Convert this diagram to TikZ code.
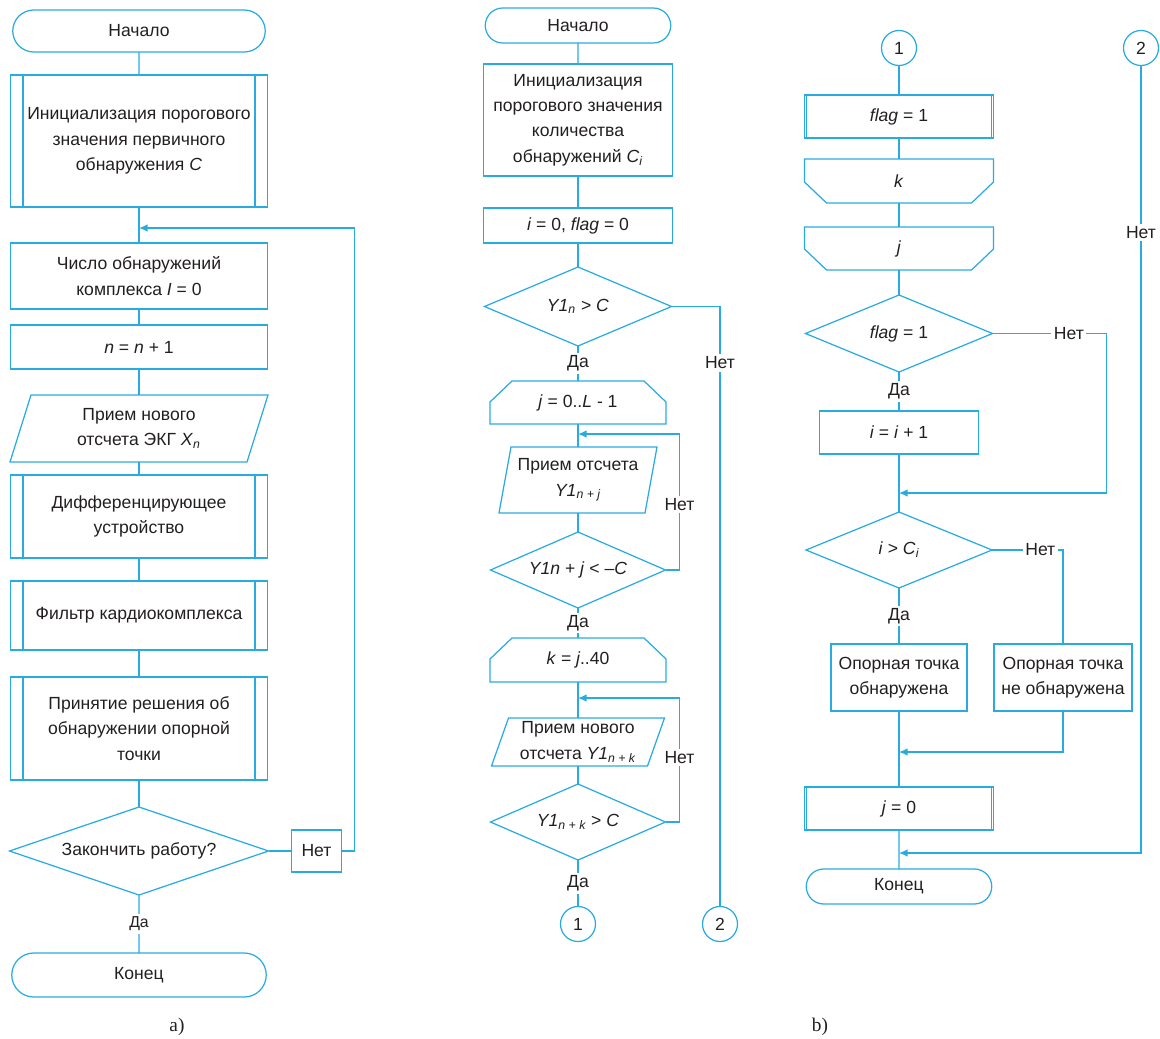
\documentclass[tikz,border=0pt]{standalone}
\usepackage{fontspec}
\setmainfont{Liberation Sans}
\newfontfamily\capfont{Liberation Serif}
\usepackage{tikz}
\usetikzlibrary{arrows.meta,positioning,shapes.geometric,shapes.misc}
\definecolor{lineblue}{HTML}{29ABE2}
\definecolor{ink}{HTML}{231F20}
\newcommand\vi[1]{\textit{#1}}
\newcommand\idx[1]{\textsubscript{\itshape #1}}
% outlines drawn round plain nodes: loop open/close, data input
\newcommand\loopopen[1]{\draw[wire] ([xshift=4.4mm]#1.north west) -- ([xshift=-4.4mm]#1.north east) -- ([yshift=-4.2mm]#1.north east) -- (#1.south east) -- (#1.south west) -- ([yshift=-4.2mm]#1.north west) -- cycle;}
\newcommand\loopclose[1]{\draw[wire] (#1.north west) -- (#1.north east) -- ([yshift=4.2mm]#1.south east) -- ([xshift=-4.4mm]#1.south east) -- ([xshift=4.4mm]#1.south west) -- ([yshift=4.2mm]#1.south west) -- cycle;}
\newcommand\slanted[2]{\draw[wire] ([xshift=#2]#1.north west) -- (#1.north east) -- ([xshift=-#2]#1.south east) -- (#1.south west) -- cycle;}

\begin{document}
\begin{tikzpicture}[
  font=\fontsize{10}{14.5}\selectfont, text=ink,
  every node/.style={outer sep=0pt},
  wire/.style={draw=lineblue,line width=.7pt},
  back/.style={wire,-{Latex[length=1.7mm,width=1.5mm]}},
  term/.style={rounded rectangle,wire,inner sep=1pt},
  box/.style={rectangle,wire,inner sep=1pt,align=center},
  proc/.style={box,path picture={\draw[lineblue,line width=.7pt] ([xshift=#1]path picture bounding box.north west) -- ([xshift=#1]path picture bounding box.south west) ([xshift=-#1]path picture bounding box.north east) -- ([xshift=-#1]path picture bounding box.south east);}},
  proc/.default=2.5mm,
  plain/.style={rectangle,inner sep=1pt,align=center},
  cond/.style={diamond,aspect=3,wire,inner sep=0pt},
  conn/.style={circle,wire,minimum size=7mm,inner sep=0pt},
  lbl/.style={fill=white,inner sep=1.5pt},
]
\useasboundingbox (0,0) rectangle (232mm,-207.8mm);

% a) main loop
\node[term,minimum width=51.2mm,minimum height=8.4mm] (beginA) at (27.8mm,-6.2mm) {Начало};
\node[proc,minimum width=51.4mm,minimum height=26.4mm,below=4.6mm of beginA] (thrA) {Инициализация порогового\\значения первичного\\обнаружения \vi{C}};
\node[box,minimum width=51.4mm,minimum height=13.2mm,below=7.2mm of thrA] (countA) {Число обнаружений\\комплекса \vi{I} = 0};
\node[box,minimum width=51.4mm,minimum height=8.8mm,below=3.2mm of countA] (stepA) {\vi{n} = \vi{n} + 1};
\node[plain,minimum width=51.6mm,minimum height=13.4mm,below=5.2mm of stepA] (readA) {Прием нового\\отсчета ЭКГ \vi{X}\idx{n}};
\node[proc,minimum width=51.4mm,minimum height=16.6mm,below=2.6mm of readA] (diffA) {Дифференцирующее\\устройство};
\node[proc,minimum width=51.4mm,minimum height=13.8mm,below=4.6mm of diffA] (filtA) {Фильтр кардиокомплекса};
\node[proc,minimum width=51.4mm,minimum height=20.6mm,below=5.4mm of filtA] (decA) {Принятие решения об\\обнаружении опорной\\точки};
\node[cond,minimum width=51.8mm,minimum height=17.6mm,below=5.4mm of decA] (stopA) {Закончить работу?};
\node[term,minimum width=51.6mm,minimum height=8.8mm,below=11.6mm of stopA] (endA) {Конец};
\node[box,minimum width=10mm,minimum height=8.4mm,right=4.6mm of stopA] (noA) {Нет};
\slanted{readA}{4.2mm}

\draw[wire] (beginA) -- (thrA);
\draw[wire] (thrA) -- (countA);
\draw[wire] (countA) -- (stepA);
\draw[wire] (stepA) -- (readA);
\draw[wire] (readA) -- (diffA);
\draw[wire] (diffA) -- (filtA);
\draw[wire] (filtA) -- (decA);
\draw[wire] (decA) -- (stopA);
\draw[wire] (stopA) -- node[lbl,font=\small]{Да} (endA);
\draw[wire] (stopA) -- (noA);
\draw[back] (noA.east) -- ++(2.6mm,0) |- ([yshift=3mm]countA.north);

% b) search for the reference point
\node[term,minimum width=37.8mm,minimum height=7mm] (beginB) at (115.6mm,-5.1mm) {Начало};
\node[box,minimum width=37.8mm,minimum height=22.4mm,below=4.2mm of beginB] (thrB) {Инициализация\\порогового значения\\количества\\обнаружений \vi{C}\idx{i}};
\node[box,minimum width=37.8mm,minimum height=7mm,below=6.4mm of thrB] (setB) {\vi{i} = 0, \vi{flag} = 0};
\node[cond,minimum width=37.4mm,minimum height=15.8mm,below=4.8mm of setB] (peakB) {\vi{Y1}\idx{n} > \vi{C}};
\node[plain,minimum width=35.2mm,minimum height=8.6mm,below=7mm of peakB] (loopJ) {\vi{j} = 0..\vi{L} - 1};
\node[plain,minimum width=31.6mm,minimum height=13.2mm,below=4.6mm of loopJ] (readJ) {Прием отсчета\\\vi{Y1}\idx{n + j}};
\node[cond,minimum width=35mm,minimum height=15.2mm,below=3.8mm of readJ] (fallB) {\vi{Y1n} + \vi{j} < –\vi{C}};
\node[plain,minimum width=35.2mm,minimum height=8.8mm,below=6mm of fallB] (loopK) {\vi{k} = \vi{j}..40};
\node[plain,minimum width=34.6mm,minimum height=9.6mm,below=7.2mm of loopK] (readK) {Прием нового\\отсчета \vi{Y1}\idx{n + k}};
\node[cond,minimum width=35mm,minimum height=15.2mm,below=3.6mm of readK] (riseB) {\vi{Y1}\idx{n + k} > \vi{C}};
\node[conn,below=9.3mm of riseB] (oneB) {1};
\node[conn] (twoB) at (144mm,-184.8mm) {2};
\loopopen{loopJ}
\loopopen{loopK}
\slanted{readJ}{2.4mm}
\slanted{readK}{3.4mm}

\draw[wire] (beginB) -- (thrB);
\draw[wire] (thrB) -- (setB);
\draw[wire] (setB) -- (peakB);
\draw[wire] (peakB) -- node[lbl]{Да} (loopJ);
\draw[wire] (loopJ) -- (readJ);
\draw[wire] (readJ) -- (fallB);
\draw[wire] (fallB) -- node[lbl]{Да} (loopK);
\draw[wire] (loopK) -- (readK);
\draw[wire] (readK) -- (riseB);
\draw[wire] (riseB) -- node[lbl]{Да} (oneB);
\draw[wire] (peakB.east) -| node[lbl,pos=.547]{Нет} (twoB);
\draw[back] (fallB.east) -- ++(2.8mm,0) |- node[lbl,pos=.24]{Нет} ([yshift=2.6mm]readJ.north);
\draw[back] (riseB.east) -- ++(2.8mm,0) |- node[lbl,pos=.26]{Нет} ([yshift=4mm]readK.north);

% continuation from the connectors
\node[conn] (oneC) at (179.8mm,-9.6mm) {1};
\node[conn] (twoC) at (228.2mm,-9.6mm) {2};
\node[proc=.4mm,minimum width=37.8mm,minimum height=8.6mm,below=5.9mm of oneC] (flagC) {\vi{flag} = 1};
\node[plain,minimum width=37.8mm,minimum height=8.8mm,below=4.2mm of flagC] (endK) {\vi{k}};
\node[plain,minimum width=37.8mm,minimum height=8.6mm,below=4.8mm of endK] (endJ) {\vi{j}};
\node[cond,minimum width=37.4mm,minimum height=15.4mm,below=5mm of endJ] (testC) {\vi{flag} = 1};
\node[box,minimum width=31.8mm,minimum height=8.6mm,below=7.8mm of testC] (incC) {\vi{i} = \vi{i} + 1};
\node[cond,minimum width=37.2mm,minimum height=15.2mm,below=11.6mm of incC] (cmpC) {\vi{i} > \vi{C}\idx{i}};
\node[box,minimum width=27.2mm,minimum height=13.4mm,below=11.2mm of cmpC] (hitC) {Опорная точка\\обнаружена};
\node[box,minimum width=27.6mm,minimum height=13.4mm,right=5.4mm of hitC] (missC) {Опорная точка\\не обнаружена};
\node[proc=.4mm,minimum width=37.8mm,minimum height=8.6mm,below=15.2mm of hitC] (resetC) {\vi{j} = 0};
\node[term,minimum width=37.8mm,minimum height=7mm,below=7.8mm of resetC] (endC) {Конец};
\loopclose{endK}
\loopclose{endJ}

\draw[wire] (oneC) -- (flagC);
\draw[wire] (flagC) -- (endK);
\draw[wire] (endK) -- (endJ);
\draw[wire] (endJ) -- (testC);
\draw[wire] (testC) -- node[lbl]{Да} (incC);
\draw[wire] (incC) -- (cmpC);
\draw[back] (testC.east) -- node[lbl,pos=.67]{Нет} ++(22.8mm,0) |- ([yshift=3.8mm]cmpC.north);
\draw[wire] (cmpC) -- node[lbl]{Да} (hitC);
\draw[wire] (cmpC.east) -| node[lbl,pos=.34]{Нет} (missC);
\draw[wire] (hitC) -- (resetC);
\draw[back] (missC) |- ([yshift=7mm]resetC.north);
\draw[wire] (resetC) -- (endC);
\draw[back] (twoC) |- node[lbl,pos=.106]{Нет} ([yshift=3.2mm]endC.north);

\node[font=\capfont\fontsize{11}{13}\selectfont] (capA) at (35.4mm,-205.4mm) {a)};
\node[font=\capfont\fontsize{11}{13}\selectfont] (capB) at (164mm,-205.4mm) {b)};
\end{tikzpicture}
\end{document}
